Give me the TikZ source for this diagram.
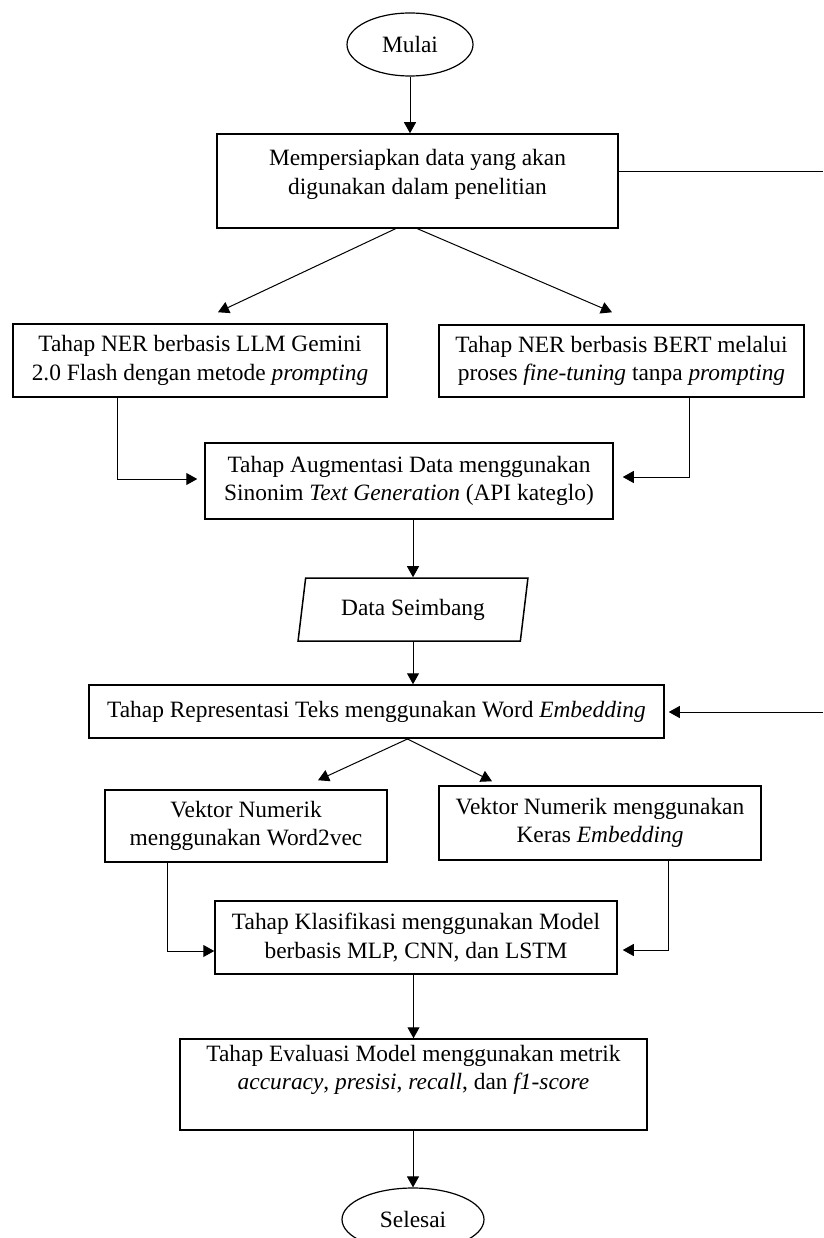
\documentclass[tikz,border=0pt]{standalone}
\usepackage{fontspec}
\setmainfont{Liberation Serif}
\usepackage{tikz}
\usetikzlibrary{positioning,arrows.meta,shapes.geometric,calc}

\begin{document}
\begin{tikzpicture}[x=1pt, y=-1pt,
  txt/.style={font=\fontsize{23.4}{28.5}\selectfont, align=center, inner sep=0pt},
  box/.style={txt, draw, line width=1.5pt},
  term/.style={txt, draw, ellipse, line width=1.2pt},
  io/.style={txt, draw, trapezium, trapezium left angle=76.6, trapezium right angle=103.4,
             trapezium stretches, line width=1.5pt},
  arr/.style={-{Triangle[length=11pt, width=12pt]}, line width=1pt},
  line/.style={line width=1pt}]
\useasboundingbox (0,0) rectangle (823,1238);
\node[term, minimum width=126, minimum height=63] (start) at (410,44.5) {Mulai};
\node[box, minimum width=401, minimum height=94] (prep) at (417.5,181)
  {Mempersiapkan data yang akan\\ digunakan dalam penelitian\\[-10.5pt]};
\node[box, minimum width=374, minimum height=73] (nerllm) at (200,360.5)
  {Tahap NER berbasis LLM Gemini\\ 2.0 Flash dengan metode \textit{prompting}};
\node[box, minimum width=365, minimum height=72] (nerbert) at (621.5,361)
  {Tahap NER berbasis BERT melalui\\ proses \textit{fine-tuning} tanpa \textit{prompting}};
\node[box, minimum width=408, minimum height=76] (aug) at (409,481)
  {Tahap Augmentasi Data menggunakan\\ Sinonim \textit{Text Generation} (API kateglo)};
\node[io, minimum width=230, minimum height=63] (bal) at (413,609.5) {Data Seimbang};
\node[box, minimum width=575, minimum height=53] (repr) at (376.5,711.5)
  {Tahap Representasi Teks menggunakan Word \textit{Embedding}};
\node[box, minimum width=282, minimum height=72] (w2v) at (246,826)
  {Vektor Numerik\\ menggunakan Word2vec};
\node[box, minimum width=322, minimum height=74] (keras) at (600,823)
  {Vektor Numerik menggunakan\\ Keras \textit{Embedding}};
\node[box, minimum width=402, minimum height=73] (clf) at (416,937.5)
  {Tahap Klasifikasi menggunakan Model\\ berbasis MLP, CNN, dan LSTM};
\node[box, minimum width=467, minimum height=91] (eval) at (413.5,1084.5)
  {Tahap Evaluasi Model menggunakan metrik\\ \textit{accuracy}, \textit{presisi}, \textit{recall}, dan \textit{f1-score}\\[5.5pt]};
\node[term, minimum width=142, minimum height=63] (stop) at (413,1219.5) {Selesai};
% loop back on the right edge
\coordinate (rtop) at (823,172);
\coordinate (rbot) at (823,712);
\draw[line] (prep.east |- rtop) -- (rtop);
\draw[arr] (rbot) -- ([xshift=4pt]repr.east |- rbot);
% main flow
\draw[arr] (start.south) -- (start.south |- prep.north);
\draw[arr] ($(prep.south)+(-22,0)$) -- ($(nerllm.north)+(18,-11)$);
\draw[arr] (prep.south) -- ($(nerbert.north)+(-9.5,-12)$);
\draw[arr] ([xshift=-83pt]nerllm.south) |- ([xshift=-7pt,yshift=2pt]aug.west);
\draw[arr] ([xshift=67.5pt]nerbert.south) |- ([xshift=9pt,yshift=4pt]aug.east);
\draw[arr] (bal.north |- aug.south) -- (bal.north);
\draw[arr] (bal.south) -- (bal.south |- repr.north);
\draw[arr] ($(repr.south)+(31.5,0)$) -- ($(w2v.north)+(72,-9)$);
\draw[arr] ($(repr.south)+(30.5,0)$) -- ($(keras.north)+(-108,-4)$);
\draw[arr] ([xshift=-79pt]w2v.south) |- ([yshift=-13.5pt]clf.west);
\draw[arr] ([xshift=68pt]keras.south) |- ([xshift=5pt,yshift=-12.5pt]clf.east);
\draw[arr] (eval.north |- clf.south) -- (eval.north);
\draw[arr] (stop.north |- eval.south) -- (stop.north);
\end{tikzpicture}
\end{document}
